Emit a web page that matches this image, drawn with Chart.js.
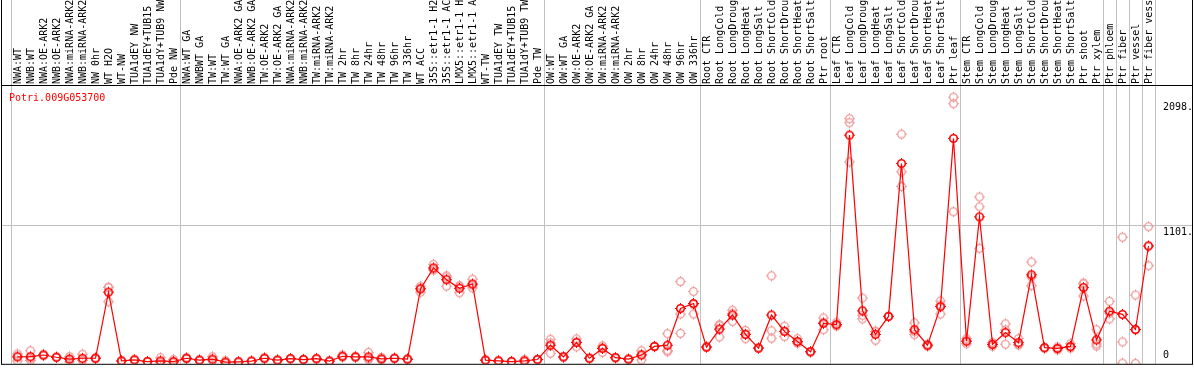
<!DOCTYPE html>
<html>
<head>
<meta charset="utf-8">
<script src="https://cdn.jsdelivr.net/npm/chart.js@4.4.1/dist/chart.umd.min.js"></script>
<style>
  html, body { margin: 0; padding: 0; background: #fff; }
  #wrap { width: 1194px; height: 370px; }
</style>
</head>
<body>
<div id="wrap"><canvas id="line-chart" width="1194" height="370"></canvas></div>
<script>
// sample names, left to right
const labels = [
  "NWA:WT","NWB:WT","NWA:OE-ARK2","NWB:OE-ARK2","NWA:miRNA-ARK2","NWB:miRNA-ARK2","NW 0hr","WT H2O","WT-NW",
  "TUA1dEY NW","TUA1dEY+TUB15 NW","TUA1dY+TUB9 NW","Pde NW",
  "NWA:WT GA","NWBWT GA","TW:WT","TW:WT GA","NWA:OE-ARK2 GA","NWB:OE-ARK2 GA","TW:OE-ARK2","TW:OE-ARK2 GA",
  "NWA:miRNA-ARK2 GA","NWB:miRNA-ARK2 GA","TW:miRNA-ARK2","TW:miRNA-ARK2 GA",
  "TW 2hr","TW 8hr","TW 24hr","TW 48hr","TW 96hr","TW 336hr","WT ACC",
  "35S::etr1-1 H2O","35S::etr1-1 ACC","LMX5::etr1-1 H2O","LMX5::etr1-1 ACC",
  "WT-TW","TUA1dEY TW","TUA1dEY+TUB15 TW","TUA1dY+TUB9 TW","Pde TW",
  "OW:WT","OW:WT GA","OW:OE-ARK2","OW:OE-ARK2 GA","OW:miRNA-ARK2","OW:miRNA-ARK2 GA",
  "OW 2hr","OW 8hr","OW 24hr","OW 48hr","OW 96hr","OW 336hr",
  "Root CTR","Root LongCold","Root LongDrought","Root LongHeat","Root LongSalt",
  "Root ShortCold","Root ShortDrought","Root ShortHeat","Root ShortSalt","Ptr root",
  "Leaf CTR","Leaf LongCold","Leaf LongDrought","Leaf LongHeat","Leaf LongSalt",
  "Leaf ShortCold","Leaf ShortDrought","Leaf ShortHeat","Leaf ShortSalt","Ptr leaf",
  "Stem CTR","Stem LongCold","Stem LongDrought","Stem LongHeat","Stem LongSalt",
  "Stem ShortCold","Stem ShortDrought","Stem ShortHeat","Stem ShortSalt","Ptr shoot","Ptr xylem",
  "Ptr phloem","Ptr fiber","Ptr vessel","Ptr fiber vessel"
];

// mean expression
const meanVals = [
  55,57,70,52,37,44,44,570,23,31,18,23,18,
  44,29,37,13,16,21,44,29,41,34,41,21,60,55,55,39,44,37,596,763,669,601,635,29,23,18,23,34,
  148,55,169,44,122,49,37,70,138,148,440,480,
  133,276,388,234,125,388,258,177,96,322,
  312,1819,422,234,377,1593,271,148,455,1793,
  180,1169,155,248,168,708,128,122,138,606,190,
  419,393,273,937
];

// replicates
const repA = [
  78,104,75,52,57,76,48,609,20,36,18,49,35,
  50,29,57,25,16,21,50,29,41,34,41,21,70,55,91,50,44,37,617,791,700,622,674,29,23,18,35,34,
  195,55,198,44,143,49,37,104,138,240,654,575,
  133,312,427,265,125,700,299,200,96,365,
  330,1950,523,187,377,1827,326,148,500,2121,
  200,1327,170,318,200,810,128,135,160,643,271,
  497,1007,547,1091
];
const repB = [
  23,26,65,50,16,30,40,494,26,28,16,10,10,
  40,27,27,8,14,19,40,25,39,32,38,19,55,50,40,34,42,35,570,745,617,565,604,27,21,16,15,32,
  83,52,135,42,91,47,35,31,136,96,396,396,
  130,213,336,200,122,263,258,165,94,271,
  300,1918,357,260,375,1528,232,140,396,2069,
  160,1249,140,156,150,622,126,110,125,539,141,
  357,174,3,781
];
const repC = [
  62,41,70,54,38,26,44,607,23,29,20,10,9,
  42,31,27,6,18,23,42,33,43,36,44,23,55,60,34,33,46,39,601,753,690,616,627,31,25,20,19,36,
  166,58,174,46,132,51,39,75,140,108,242,470,
  136,303,401,237,128,203,217,166,98,330,
  306,1606,386,255,379,1411,255,156,469,1210,
  180,919,155,270,154,692,130,121,129,636,158,
  403,5,269,939
];

// index where each sample block starts (last = end)
const groupBreaks = [0,13,41,53,63,73,84,85,86,87,88];
const yTicks = [
  { v: 2098, t: "2098.", base: "top" },
  { v: 1101, t: "1101.", base: "top" },
  { v: 0, t: "0", base: "bottom" }
];
const geneName = "Potri.009G053700";

const FONT = "DejaVu Sans Mono";

function marker(color, lw) {
  const c = document.createElement('canvas');
  c.width = 13; c.height = 13;
  const g = c.getContext('2d');
  g.strokeStyle = color;
  g.lineWidth = lw;
  g.beginPath();
  g.arc(6.5, 6.5, 3.8, 0, Math.PI * 2);
  g.stroke();
  g.lineWidth = 1;
  g.beginPath();
  g.moveTo(6.5, 1); g.lineTo(6.5, 3);
  g.moveTo(6.5, 10); g.lineTo(6.5, 12);
  g.moveTo(1, 6.5); g.lineTo(3, 6.5);
  g.moveTo(10, 6.5); g.lineTo(12, 6.5);
  g.stroke();
  return c;
}
const meanMark = marker('#ff0000', 1.6);
const repMark = marker('#ee9a9a', 1.3);

const frame = {
  id: 'frame',
  beforeDatasetsDraw(chart) {
    const { ctx, chartArea: a, scales: { x, y } } = chart;
    const W = chart.width;
    ctx.save();
    ctx.lineWidth = 1;
    ctx.strokeStyle = '#c0c0c0';
    const step = (a.right - a.left) / labels.length;
    groupBreaks.forEach(b => {
      const px = Math.round(a.left + b * step) + 0.5;
      ctx.beginPath(); ctx.moveTo(px, 0); ctx.lineTo(px, a.bottom); ctx.stroke();
    });
    const gy = Math.round(y.getPixelForValue(1101)) + 0.5;
    ctx.beginPath(); ctx.moveTo(1, gy); ctx.lineTo(W - 1, gy); ctx.stroke();
    ctx.restore();
  },
  afterDraw(chart) {
    const { ctx, chartArea: a, scales: { y } } = chart;
    const W = chart.width;
    ctx.save();
    ctx.strokeStyle = '#000';
    ctx.lineWidth = 1;
    ctx.beginPath();
    ctx.moveTo(1.5, 0); ctx.lineTo(1.5, a.bottom + 0.5);
    ctx.moveTo(W - 1.5, 0); ctx.lineTo(W - 1.5, a.bottom + 0.5);
    ctx.moveTo(1, a.bottom + 0.5); ctx.lineTo(W - 1, a.bottom + 0.5);
    ctx.moveTo(1, a.top - 0.5); ctx.lineTo(W - 1, a.top - 0.5);
    ctx.stroke();
    ctx.font = "10px '" + FONT + "'";
    ctx.fillStyle = '#000';
    yTicks.forEach(t => {
      const py = y.getPixelForValue(t.v);
      ctx.textBaseline = t.base;
      ctx.fillText(t.t, a.right + 8, t.base === 'top' ? py + 2 : py - 3);
    });
    ctx.fillStyle = '#ff0000';
    ctx.textBaseline = 'middle';
    ctx.fillText(geneName, 9, a.top + 12);
    ctx.restore();
  }
};

function repSet(vals) {
  return {
    data: vals,
    showLine: false,
    pointStyle: repMark,
    pointRadius: 5,
    order: 2
  };
}

new Chart(document.getElementById("line-chart"), {
  type: 'line',
  data: {
    labels: labels,
    datasets: [{
        data: meanVals,
        borderColor: '#ff0000',
        borderWidth: 1.2,
        pointStyle: meanMark,
        pointRadius: 5,
        tension: 0,
        order: 0
      },
      repSet(repA), repSet(repB), repSet(repC)
    ]
  },
  options: {
    responsive: false,
    animation: false,
    events: [],
    layout: { padding: { left: 11, right: 0, top: 0, bottom: 1 } },
    plugins: { legend: { display: false }, tooltip: { enabled: false } },
    scales: {
      x: {
        position: 'top',
        offset: true,
        grid: { display: false, drawTicks: false },
        border: { display: false },
        ticks: {
          autoSkip: false,
          minRotation: 90,
          maxRotation: 90,
          padding: 2,
          labelOffset: 13,
          color: '#000',
          font: { family: FONT, size: 10 }
        },
        afterFit(scale) { scale.height = 86; }
      },
      y: {
        position: 'right',
        min: 0,
        max: 2210,
        grid: { display: false },
        border: { display: false },
        ticks: { display: false },
        afterFit(scale) { scale.width = 39; }
      }
    }
  },
  plugins: [frame]
});
</script>
</body>
</html>
